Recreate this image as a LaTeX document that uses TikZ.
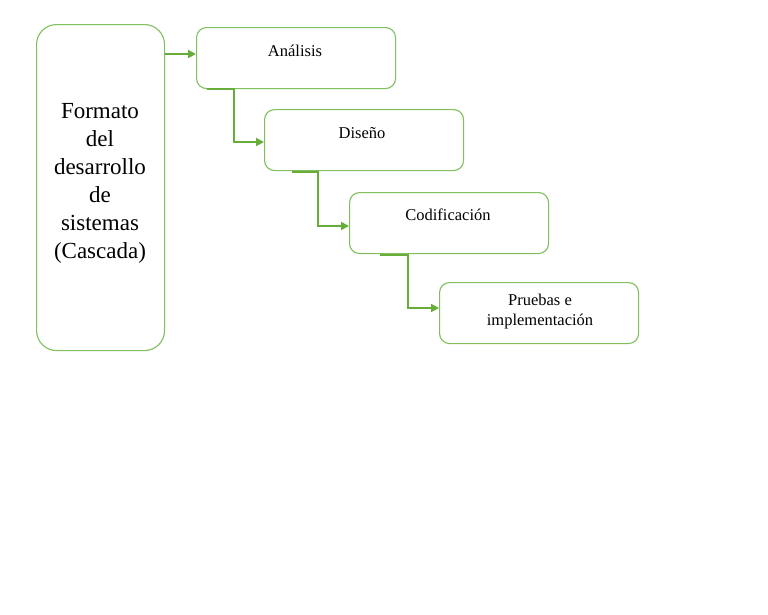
\documentclass[tikz,border=0pt]{standalone}
\usepackage{fontspec}
\setmainfont{Liberation Serif}
\usetikzlibrary{arrows.meta,calc}
\definecolor{boxgreen}{RGB}{128,192,92}
\definecolor{arrgreen}{RGB}{104,172,58}
\tikzset{
  stagebox/.style={draw=boxgreen, line width=1.1pt, rounded corners=10pt, minimum width=199pt, minimum height=61pt, anchor=north west, inner sep=0pt},
  mainbox/.style={draw=boxgreen, line width=1.1pt, rounded corners=20pt, minimum width=128pt, minimum height=326pt, anchor=north west, inner sep=0pt},
  stagetext/.style={font=\fontsize{16.5pt}{20pt}\selectfont, align=center, inner sep=0pt},
  maintext/.style={font=\fontsize{23pt}{28pt}\selectfont, align=center, inner sep=0pt, anchor=base},
  flow/.style={draw=arrgreen, line width=1.6pt, -{Triangle[length=8pt,width=8pt]}}
}
\begin{document}
\begin{tikzpicture}[x=1pt,y=-1pt]
\useasboundingbox[fill=white] (0,0) rectangle (768,614);
\node[mainbox] (main) at (36,24) {};
\node[maintext] (mt) at (100,258) {Formato\\del\\desarrollo\\de\\sistemas\\(Cascada)};
\node[stagebox] (a) at (196,27) {};
\node[stagebox] (d) at (264,109) {};
\node[stagebox] (c) at (349,192) {};
\node[stagebox] (p) at (439,282) {};
\node[stagetext, anchor=base] (ta) at (295,56) {Análisis};
\node[stagetext, anchor=base] (td) at (362,138) {Diseño};
\node[stagetext, anchor=base] (tc) at (448,220) {Codificación};
\node[stagetext, anchor=center] (tp) at (540,312) {Pruebas e\\implementación};
\draw[flow] ($(main.north east)+(0,30)$) -- ($(a.north west)+(0,27)$);
\draw[flow] ($(a.south west)+(11,0)$) -| ($(d.north west)+(-30,33)$) -- ($(d.north west)+(0,33)$);
\draw[flow] ($(d.south west)+(28,1)$) -| ($(c.north west)+(-31,34)$) -- ($(c.north west)+(0,34)$);
\draw[flow] ($(c.south west)+(31,1)$) -| ($(p.north west)+(-31,26)$) -- ($(p.north west)+(0,26)$);
\end{tikzpicture}
\end{document}
